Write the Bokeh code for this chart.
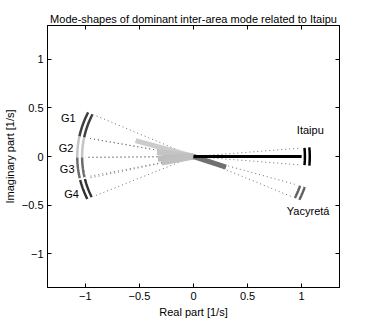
import numpy as np
from bokeh.plotting import figure
from bokeh.models import LinearAxis, Range1d, FixedTicker, Label
from bokeh.embed import file_html
from bokeh.resources import INLINE

# ---- data ----
names = ["Itaipu", "Yacyretá", "G1", "G2", "G3", "G4"]
# angle range (deg) of the normalised mode-shape marks
ang_min = [-5.0, -24.5, 155.0, 169.0, 180.5, 193.0]
ang_max = [5.0, -17.0, 169.0, 180.5, 192.0, 204.0]
arc_colors = ["#000000", "#606060", "#404040", "#c4c4c4", "#6c6c6c", "#303030"]
# mean mode shape (magnitude, angle in deg)
mag = [1.0, 0.32, 0.56, 0.34, 0.33, 0.30]
ang = [0.0, -20.0, 163.0, 172.0, 184.0, 192.0]
line_colors = ["#000000", "#707070", "#cccccc", "#c4c4c4", "#bdbdbd", "#c0c0c0"]
line_widths = [3, 5, 5, 6, 6, 6]
label_x = [1.08, 1.06, -1.09, -1.11, -1.10, -1.06]
label_y = [0.27, -0.56, 0.40, 0.09, -0.13, -0.39]
label_align = ["center", "center", "right", "right", "right", "right"]
ticks = [-1, -0.5, 0, 0.5, 1]
tick_labels = {-1: "\u22121", -0.5: "\u22120.5", 0: "0", 0.5: "0.5", 1: "1"}
blank_labels = {t: "" for t in ticks}
r_inner, r_outer, r_dot = 1.03, 1.075, 1.0

FONT = "Liberation Sans"

p = figure(frame_width=292, frame_height=262, output_backend="svg", toolbar_location=None,
           x_range=Range1d(-1.35, 1.35), y_range=Range1d(-1.35, 1.35),
           min_border_left=41, min_border_right=20, min_border_top=25,
           min_border_bottom=29)
p.title.text = "Mode-shapes of dominant inter-area mode related to Itaipu"
p.title.align = "center"
p.title.text_font = FONT
p.title.text_font_size = "11px"
p.title.text_font_style = "normal"
p.title.text_color = "black"
p.title.offset = 0
p.title.standoff = 2
p.grid.visible = False
p.outline_line_color = "#000000"
p.background_fill_color = "white"
p.border_fill_color = "white"

for ax in [p.xaxis[0], p.yaxis[0]]:
    ax.ticker = FixedTicker(ticks=ticks)
    ax.major_label_overrides = tick_labels
    ax.major_tick_in = 4
    ax.major_tick_out = 0
    ax.minor_tick_line_color = None
    ax.major_label_text_font = FONT
    ax.major_label_text_font_size = "11px"
    ax.major_label_text_color = "black"
    ax.axis_label_text_font = FONT
    ax.axis_label_text_font_size = "11px"
    ax.axis_label_text_font_style = "normal"
    ax.axis_label_text_color = "black"
    ax.axis_line_color = "black"
    ax.major_tick_line_color = "black"
    ax.major_label_standoff = 4
    ax.axis_label_standoff = 3
p.xaxis[0].axis_label = "Real part [1/s]"
p.yaxis[0].axis_label = "Imaginary part [1/s]"

for loc, standoff in [("above", 8), ("right", 0)]:
    a = LinearAxis(ticker=FixedTicker(ticks=ticks), major_tick_in=4, major_tick_out=0,
                   minor_tick_line_color=None, major_label_overrides=blank_labels,
                   major_label_standoff=standoff, axis_line_color="black",
                   major_tick_line_color="black")
    p.add_layout(a, loc)

# dotted lines from origin to the ends of each mark
dx, dy = [], []
for a0, a1 in zip(ang_min, ang_max):
    for a in (a0, a1):
        t = np.deg2rad(a)
        dx.append([0, r_dot * np.cos(t)])
        dy.append([0, r_dot * np.sin(t)])
p.multi_line(dx, dy, line_color="#707070", line_width=1, line_dash="1 3")

# mean mode-shape lines
order = [2, 3, 4, 5, 1, 0]
for i in order:
    t = np.deg2rad(ang[i])
    p.line([0, mag[i] * np.cos(t)], [0, mag[i] * np.sin(t)],
           line_color=line_colors[i], line_width=line_widths[i])

# double arcs
for i in range(len(names)):
    th = np.deg2rad(np.linspace(ang_min[i], ang_max[i], 30))
    for r in (r_inner, r_outer):
        p.line(r * np.cos(th), r * np.sin(th), line_color=arc_colors[i], line_width=2.5)

for i in range(len(names)):
    p.add_layout(Label(x=label_x[i], y=label_y[i], text=names[i], text_font=FONT,
                       text_font_size="11px", text_align=label_align[i],
                       text_baseline="middle", text_color="black"))

open("out.html", "w").write(file_html(p, INLINE))
